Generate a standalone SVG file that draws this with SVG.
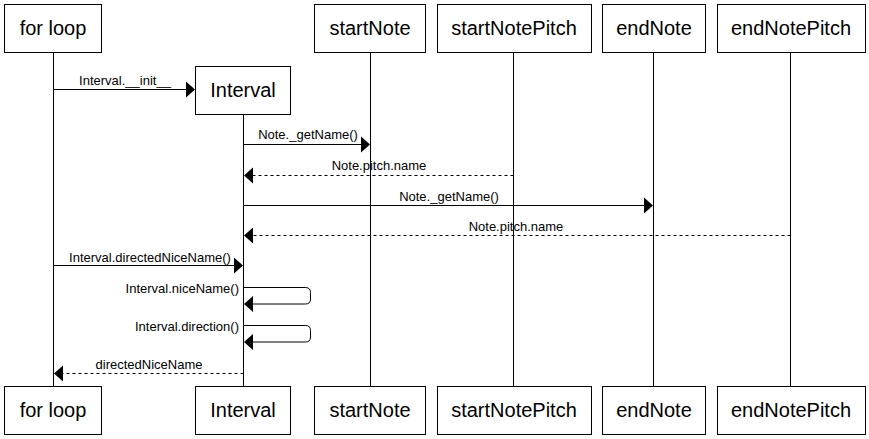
<svg xmlns="http://www.w3.org/2000/svg" width="869" height="439" viewBox="0 0 869 439">
<style>
.box{fill:#fff;stroke:#000;stroke-width:1}
.bl{font-family:"Liberation Sans",Arial,sans-serif;font-size:20px;fill:#000;text-anchor:middle}
.life{stroke:#000;stroke-width:1;fill:none}
.msg{stroke:#000;stroke-width:1;fill:none}
.ret{stroke:#000;stroke-width:1;fill:none;stroke-dasharray:3 3}
.ml{font-family:"Liberation Sans",Arial,sans-serif;font-size:13px;fill:#000;text-anchor:middle}
.mr{font-family:"Liberation Sans",Arial,sans-serif;font-size:13px;fill:#000;text-anchor:end}
.ah{fill:#000;stroke:none}
</style>
<rect width="869" height="439" fill="#fff"/>
<g id="lifelines">
<line class="life" x1="53.5" y1="52" x2="53.5" y2="387"/>
<line class="life" x1="243.5" y1="114" x2="243.5" y2="387"/>
<line class="life" x1="370.5" y1="52" x2="370.5" y2="387"/>
<line class="life" x1="513.5" y1="52" x2="513.5" y2="387"/>
<line class="life" x1="653.5" y1="52" x2="653.5" y2="387"/>
<line class="life" x1="790.5" y1="52" x2="790.5" y2="387"/>
</g>
<g id="connectors">
<line class="msg" x1="53.5" y1="89.5" x2="187" y2="89.5"/>
<polygon class="ah" points="195,89.5 186,81.5 186,97.5"/>
<text class="ml" x="125" y="85">Interval.__init__</text>

<line class="msg" x1="243.5" y1="144.5" x2="362" y2="144.5"/>
<polygon class="ah" points="370,144.5 361,136.5 361,152.5"/>
<text class="ml" x="308" y="139">Note._getName()</text>

<line class="ret" x1="513.5" y1="175.5" x2="252" y2="175.5"/>
<polygon class="ah" points="244,175.5 253,167.5 253,183.5"/>
<text class="ml" x="379" y="170">Note.pitch.name</text>

<line class="msg" x1="243.5" y1="205.5" x2="645" y2="205.5"/>
<polygon class="ah" points="653,205.5 644,197.5 644,213.5"/>
<text class="ml" x="449" y="201">Note._getName()</text>

<line class="ret" x1="790.5" y1="235.5" x2="252" y2="235.5"/>
<polygon class="ah" points="244,235.5 253,227.5 253,243.5"/>
<text class="ml" x="516" y="231">Note.pitch.name</text>

<line class="msg" x1="53.5" y1="265.5" x2="235" y2="265.5"/>
<polygon class="ah" points="243,265.5 234,257.5 234,273.5"/>
<text class="ml" x="150" y="262">Interval.directedNiceName()</text>

<path class="msg" d="M243.5,287.5 H305.5 Q310.5,287.5 310.5,292.5 V299 Q310.5,304 305.5,304 H252"/>
<polygon class="ah" points="244,304 253,296 253,312"/>
<text class="mr" x="239" y="293">Interval.niceName()</text>

<path class="msg" d="M243.5,325.5 H305.5 Q310.5,325.5 310.5,330.5 V337 Q310.5,342 305.5,342 H252"/>
<polygon class="ah" points="244,342 253,334 253,350"/>
<text class="mr" x="239" y="331">Interval.direction()</text>

<line class="ret" x1="243.5" y1="373.5" x2="62" y2="373.5"/>
<polygon class="ah" points="54,373.5 63,365.5 63,381.5"/>
<text class="ml" x="149" y="369">directedNiceName</text>
</g>
<g id="forloop-top"><rect class="box" x="4.5" y="4.5" width="97" height="48"/><text class="bl" x="53" y="35">for loop</text></g>
<g id="interval-top"><rect class="box" x="195.5" y="66.5" width="95" height="48"/><text class="bl" x="243" y="97">Interval</text></g>
<g id="startNote-top"><rect class="box" x="314.5" y="4.5" width="111" height="48"/><text class="bl" x="370" y="35">startNote</text></g>
<g id="startNotePitch-top"><rect class="box" x="437.5" y="4.5" width="154" height="48"/><text class="bl" x="514" y="35">startNotePitch</text></g>
<g id="endNote-top"><rect class="box" x="602.5" y="4.5" width="103" height="48"/><text class="bl" x="654" y="35">endNote</text></g>
<g id="endNotePitch-top"><rect class="box" x="717.5" y="4.5" width="148" height="48"/><text class="bl" x="791" y="35">endNotePitch</text></g>
<g id="forloop-bottom"><rect class="box" x="4.5" y="386.5" width="97" height="48"/><text class="bl" x="53" y="417">for loop</text></g>
<g id="interval-bottom"><rect class="box" x="195.5" y="386.5" width="95" height="48"/><text class="bl" x="243" y="417">Interval</text></g>
<g id="startNote-bottom"><rect class="box" x="314.5" y="386.5" width="111" height="48"/><text class="bl" x="370" y="417">startNote</text></g>
<g id="startNotePitch-bottom"><rect class="box" x="437.5" y="386.5" width="154" height="48"/><text class="bl" x="514" y="417">startNotePitch</text></g>
<g id="endNote-bottom"><rect class="box" x="602.5" y="386.5" width="103" height="48"/><text class="bl" x="654" y="417">endNote</text></g>
<g id="endNotePitch-bottom"><rect class="box" x="717.5" y="386.5" width="148" height="48"/><text class="bl" x="791" y="417">endNotePitch</text></g>
</svg>
